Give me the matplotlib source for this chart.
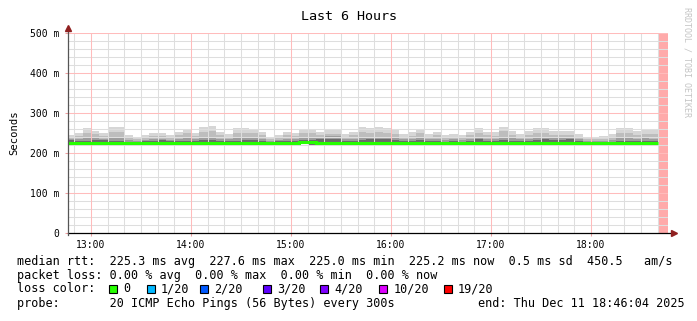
import numpy as np
import matplotlib
matplotlib.use('Agg')
import matplotlib.pyplot as plt
from matplotlib.patches import Rectangle
from matplotlib.lines import Line2D

W, H = 697, 321
MONO = 'DejaVu Sans Mono'

# 5 minute steps, first step starts 12:45, last good step starts 18:35
median_rtt = [225.5, 225.4, 225.6, 225.3, 225.4, 225.2, 225.3, 225.2, 225.1, 225.2,
              225.3, 225.4, 225.2, 225.3, 225.3, 225.2, 225.4, 225.5, 225.3, 225.2,
              225.3, 225.2, 225.4, 225.3, 225.1, 225.2, 225.4, 225.3, 227.6, 227.4,
              225.6, 225.4, 225.3, 225.5, 225.6, 225.4, 225.3, 225.2, 225.4, 225.3,
              225.2, 225.3, 225.2, 225.1, 225.3, 225.4, 225.2, 225.3, 225.2, 225.3,
              225.5, 225.4, 225.3, 225.2, 225.3, 225.4, 225.3, 225.2, 225.4, 225.5,
              225.3, 225.2, 225.1, 225.2, 225.3, 225.2, 225.3, 225.4, 225.3, 225.2,
              225.2]
smoke_min = [221.0, 220.8, 221.1, 220.7, 220.9, 220.6, 220.8, 220.9, 221.0, 220.8,
             220.7, 220.9, 221.0, 220.8, 220.6, 220.9, 220.7, 220.5, 220.8, 220.9,
             220.7, 220.8, 220.6, 220.9, 221.0, 220.9, 220.8, 220.7, 221.4, 221.2,
             220.9, 220.8, 220.7, 220.9, 220.8, 220.6, 220.7, 220.8, 220.6, 220.9,
             221.0, 220.8, 220.7, 220.9, 220.8, 221.0, 220.9, 221.0, 220.8, 220.7,
             220.8, 220.9, 220.5, 220.7, 220.9, 220.8, 220.6, 220.7, 220.8, 220.8,
             220.7, 220.9, 221.1, 221.0, 221.0, 220.9, 220.7, 220.7, 220.8, 220.8,
             220.8]
smoke_core = [232, 231, 230, 233, 232, 229, 230, 228, 228, 229,
              231, 232, 229, 230, 229, 231, 233, 232, 230, 229,
              231, 232, 233, 231, 228, 229, 231, 230, 232, 233,
              234, 236, 235, 229, 231, 233, 234, 236, 235, 232,
              229, 230, 232, 229, 230, 228, 229, 228, 231, 234,
              230, 229, 233, 231, 229, 230, 233, 234, 233, 232,
              234, 229, 227, 227, 228, 228, 231, 231, 229, 230,
              230]
smoke_mid = [236, 234, 238, 237, 236, 238, 240, 232, 230, 232,
             235, 236, 232, 235, 238, 234, 240, 240, 236, 234,
             238, 239, 238, 236, 230, 232, 235, 234, 237, 238,
             240, 242, 242, 234, 236, 240, 240, 241, 240, 237,
             234, 235, 238, 235, 236, 233, 234, 232, 236, 240,
             236, 235, 240, 237, 234, 236, 240, 240, 239, 238,
             240, 234, 230, 230, 231, 233, 238, 238, 236, 237,
             236]
smoke_hi = [240, 243, 250, 247, 243, 252, 253, 238, 234, 238,
            243, 242, 238, 244, 250, 242, 253, 255, 244, 241,
            250, 251, 249, 244, 234, 238, 244, 242, 249, 250,
            244, 247, 248, 240, 244, 252, 251, 252, 251, 248,
            240, 243, 249, 241, 244, 238, 240, 238, 244, 251,
            244, 243, 254, 246, 240, 245, 251, 250, 246, 246,
            246, 240, 234, 234, 236, 240, 250, 251, 246, 248,
            247]
smoke_max = [245, 250, 262, 255, 250, 264, 264, 245, 240, 245,
             250, 250, 245, 252, 260, 250, 264, 267, 252, 248,
             262, 262, 260, 252, 240, 245, 252, 250, 260, 260,
             252, 257, 257, 247, 252, 264, 262, 264, 263, 258,
             248, 252, 260, 248, 252, 245, 248, 245, 252, 262,
             252, 252, 266, 255, 248, 254, 263, 262, 255, 255,
             254, 247, 240, 240, 242, 247, 262, 262, 255, 258,
             258]

hour_labels = ['13:00', '14:00', '15:00', '16:00', '17:00', '18:00']
y_labels = ['0', '100 m', '200 m', '300 m', '400 m', '500 m']

loss_labels = ['0', '1/20', '2/20', '3/20', '4/20', '10/20', '19/20']
loss_colors = ['#26ff00', '#00b8ff', '#0059ff', '#5e00ff', '#7e00ff', '#dd00ff', '#ff0000']
loss_box_x = [109, 146.7, 200, 262.7, 320, 379.3, 444]

legend_lines = [
    'median rtt:  225.3 ms avg  227.6 ms max  225.0 ms min  225.2 ms now  0.5 ms sd  450.5   am/s',
    'packet loss: 0.00 % avg  0.00 % max  0.00 % min  0.00 % now',
]
probe_text = 'probe:       20 ICMP Echo Pings (56 Bytes) every 300s'
end_text = 'end: Thu Dec 11 18:46:04 2025'

t0 = 12 + 46 / 60 + 4 / 3600
t1 = t0 + 6
edges = 12.75 + np.arange(len(median_rtt) + 1) * 5 / 60

fig = plt.figure(figsize=(W / 100, H / 100), dpi=100)
fig.patch.set_facecolor('white')
ax = fig.add_axes([67.7 / W, 88 / H, 600 / W, 200 / H])
ax.set_facecolor('white')
for s in ax.spines.values():
    s.set_visible(False)

for vals, col in [(smoke_max, '#d6d6d6'), (smoke_hi, '#bdbdbd'),
                  (smoke_mid, '#9c9c9c'), (smoke_core, '#6a6a6a')]:
    ax.stairs(vals, edges, baseline=smoke_min, fill=True, color=col, lw=0, zorder=1)

# unknown last step
ax.axvspan(edges[-1], t1, color='#ffaaaa', lw=0, zorder=1.5)

ax.set_xlim(t0, t1)
ax.set_ylim(0, 500)

# grid: minor every 10 min / 20 m, major every hour / 100 m
minor_x = [m / 60 for m in range(12 * 60 + 50, 18 * 60 + 50, 10) if m % 60]
minor_y = [v for v in range(0, 501, 20) if v % 100]
for x in minor_x:
    ax.axvline(x, color='#dedede', lw=0.75, zorder=2)
for y in minor_y:
    ax.axhline(y, color='#dedede', lw=0.75, zorder=2)
for x in range(13, 19):
    ax.axvline(x, color='#ffbcbc', lw=0.75, zorder=2.5)
for y in range(100, 501, 100):
    ax.axhline(y, color='#ffbcbc', lw=0.75, zorder=2.5)

ax.set_xticks(np.arange(13, 19))
ax.set_xticklabels(hour_labels, fontsize=7, family=MONO)
ax.set_yticks(np.arange(0, 501, 100))
ax.set_yticklabels(y_labels, fontsize=7, family=MONO)
ax.tick_params(which='major', length=2.2, width=0.75, color='#f0a0a0', pad=3)
ax.tick_params(axis='y', which='major', pad=4)

ax.stairs(median_rtt, edges, baseline=None, color='#26ff00', lw=2.2, zorder=4)

# axes with arrow heads
ax.add_line(Line2D([0, 1.008], [0, 0], transform=ax.transAxes, color='black',
                   lw=0.9, clip_on=False, zorder=5))
ax.add_line(Line2D([0, 0], [-0.012, 1.02], transform=ax.transAxes, color='#555555',
                   lw=0.9, clip_on=False, zorder=5))
ax.plot([1.010], [0], marker='>', ms=4.5, color='#902020', transform=ax.transAxes,
        clip_on=False, zorder=6)
ax.plot([0], [1.025], marker='^', ms=4.5, color='#902020', transform=ax.transAxes,
        clip_on=False, zorder=6)


def ftext(x, y, s, **kw):
    kw.setdefault('family', MONO)
    return fig.text(x / W, 1 - y / H, s, **kw)


ftext(349, 16, 'Last 6 Hours', fontsize=9.6, ha='center', va='center')
ftext(14.3, 132.5, 'Seconds', fontsize=7.6, rotation=90, ha='center', va='center')
ftext(687.5, 62, 'RRDTOOL / TOBI OETIKER', fontsize=6, rotation=270,
      ha='center', va='center', color='#c4c4c4')

ftext(16.7, 261, legend_lines[0], fontsize=8.45, va='center')
ftext(16.7, 275, legend_lines[1], fontsize=8.45, va='center')
ftext(16.7, 289, 'loss color:', fontsize=8.45, va='center')
for bx, lab, col in zip(loss_box_x, loss_labels, loss_colors):
    fig.patches.append(Rectangle((bx / W, 1 - 293.3 / H), 8 / W, 8 / H,
                                 transform=fig.transFigure, facecolor=col,
                                 edgecolor='black', lw=0.8))
    ftext(bx + 14, 289, lab, fontsize=8.45, va='center')
ftext(16.7, 303.3, probe_text, fontsize=8.45, va='center')
ftext(478.3, 303.3, end_text, fontsize=8.45, va='center')

fig.savefig('out.png', dpi=100)
